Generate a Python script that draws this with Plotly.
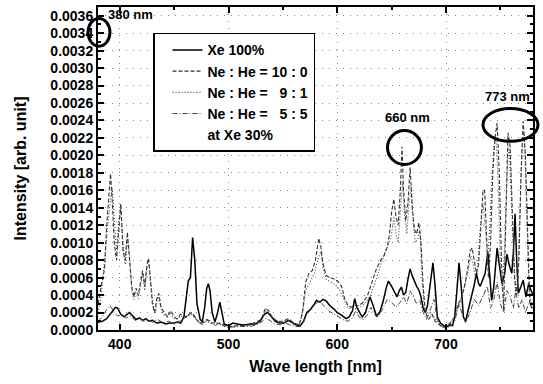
import plotly.graph_objects as go

# ---------------- data (intensity values in units of 1e-4 arb. unit) ----------------
xe_wl = [380, 384, 388, 392, 396, 398, 401, 404, 406, 409, 412, 415, 418, 421, 424, 427, 430, 434, 438, 442,
         446, 450, 453, 456, 459, 461, 463, 465, 467, 469, 471, 474, 476, 478, 480, 481.5, 483, 485, 487.5, 490,
         492, 494, 496, 500, 504, 508, 512, 516, 520, 525, 529, 533, 536, 539, 543, 547, 551, 555, 558, 562,
         566, 569, 572, 575, 578, 581, 584, 587, 590, 593, 597, 600, 604, 608, 611, 614, 616, 618, 621, 623,
         626, 628, 630, 633, 636, 639, 642, 645, 647, 650, 653, 655, 657, 659, 661, 663, 665, 667, 669, 671,
         673, 675, 677, 679, 681, 683, 685, 688, 690, 692, 695, 698, 701, 704, 706, 708, 710, 712, 714, 716,
         718, 720, 722, 724, 726, 728, 730, 731.5, 734, 736, 738.5, 740, 742, 744, 747, 749, 751.5, 754, 756, 758,
         760.5, 762, 763.5, 765, 766.5, 769, 771, 773.5, 776, 778, 780]
xe_int = [0.9, 1.0, 1.3, 2.0, 2.6, 2.5, 1.8, 1.5, 1.7, 2.0, 1.6, 1.2, 1.4, 1.1, 1.3, 1.0, 1.1, 0.8, 0.9, 0.7,
          0.8, 0.8, 0.9, 0.8, 1.5, 3.5, 5.6, 6.0, 10.6, 8.0, 3.0, 1.2, 1.0, 2.5, 4.8, 5.3, 4.5, 2.0, 0.9, 2.0,
          3.2, 2.0, 0.7, 0.5, 0.8, 0.7, 0.6, 0.6, 0.7, 0.7, 1.0, 1.8, 2.0, 1.6, 1.0, 0.8, 0.8, 1.1, 0.9, 0.6,
          0.5, 1.0, 2.0, 2.3, 2.8, 3.4, 3.2, 3.5, 3.3, 2.8, 2.4, 2.0, 1.7, 1.3, 1.5, 2.2, 3.6, 2.6, 1.9, 1.5,
          2.0, 3.0, 3.8, 2.8, 1.6, 2.0, 3.2, 4.8, 5.6, 5.0, 4.2, 3.8, 4.5, 4.9, 4.0, 4.3, 5.8, 7.0, 6.2, 5.5,
          5.0, 4.6, 3.8, 2.5, 2.0, 2.8, 5.0, 7.7, 5.0, 1.5, 0.8, 0.5, 0.4, 0.6, 0.5, 1.5, 4.5, 7.7, 5.0, 1.5,
          1.0, 2.0, 3.0, 4.2, 5.2, 6.5, 5.3, 5.0, 5.8, 6.5, 8.9, 6.0, 3.4, 5.0, 9.4, 7.5, 5.3, 6.5, 8.7, 7.5,
          6.5, 9.0, 13.3, 8.0, 4.2, 5.0, 5.7, 3.8, 5.3, 4.6, 4.0]

ne100_wl = [380, 383, 386, 388, 390, 391.5, 393, 395, 397, 399, 401, 403, 405, 407, 409, 411, 413, 415, 417, 419,
            421, 423, 425, 426.5, 428, 430, 432, 434, 436, 438, 441, 444, 447, 450, 453, 456, 460, 463, 466, 469,
            472, 476, 480, 484, 490, 495, 500, 510, 520, 530, 534, 537, 540, 545, 550, 555, 560, 565, 568, 571,
            574, 577, 580, 583, 585, 587, 590, 594, 598, 601, 604, 607, 610, 613, 616, 620, 624, 628, 632, 636,
            640, 643, 646, 648, 650, 652, 654, 656, 658, 659.5, 661, 663, 665, 667, 669, 671, 673, 675, 677, 679,
            681, 684, 687, 690, 694, 697, 700, 704, 708, 711, 714, 717, 720, 722, 724, 726, 728, 730, 732, 734,
            735.5, 737, 739, 741, 743, 745, 747, 749, 751, 753, 755, 757, 759, 761, 763, 765, 767, 769, 771, 773,
            775, 777, 779, 780]
ne100_int = [3.0, 5.0, 7.0, 12.0, 16.0, 17.9, 15.0, 10.0, 8.0, 11.0, 14.5, 9.0, 8.0, 11.2, 8.0, 5.0, 3.8, 4.8, 4.0, 5.5,
             6.8, 5.0, 7.5, 8.2, 6.0, 3.0, 2.0, 3.5, 4.2, 2.5, 2.0, 1.5, 2.2, 1.5, 1.3, 1.8, 1.5, 1.8, 2.0, 1.5,
             1.0, 0.8, 1.2, 0.8, 0.8, 0.6, 0.4, 0.5, 0.6, 1.2, 2.5, 2.2, 1.5, 1.0, 1.0, 1.3, 0.8, 0.6, 2.0, 5.5,
             6.5, 6.8, 8.0, 10.5, 9.5, 7.5, 6.2, 6.0, 5.8, 5.5, 5.0, 3.5, 2.8, 2.6, 2.8, 2.8, 3.2, 4.0, 5.5, 7.0,
             8.0, 8.5, 9.5, 11.0, 13.5, 15.0, 13.0, 12.0, 16.0, 21.0, 16.0, 12.5, 14.5, 18.6, 14.0, 11.5, 11.0, 12.3, 10.0, 5.0,
             2.0, 1.2, 1.8, 1.0, 0.6, 0.3, 0.5, 0.8, 1.5, 3.0, 3.5, 5.0, 7.0, 9.0, 9.4, 8.0, 6.5, 7.5, 12.0, 16.0,
             16.0, 12.0, 6.0, 10.0, 18.0, 22.0, 23.7, 18.0, 8.0, 2.3, 12.0, 22.6, 21.0, 12.0, 6.0, 4.0, 8.0, 18.0, 23.9, 20.0,
             10.0, 3.0, 2.5, 3.0]

ne90_wl = [380, 383, 386, 389, 391, 393, 395, 397, 399, 401, 403, 405, 407, 409, 411, 413, 415, 417, 419, 421,
           423, 425, 427, 429, 431, 433, 435, 437, 440, 443, 446, 449, 452, 456, 460, 463, 466, 470, 475, 480,
           485, 490, 495, 500, 510, 520, 530, 534, 538, 542, 548, 555, 560, 565, 568, 571, 575, 579, 582, 585,
           587, 590, 594, 598, 602, 606, 610, 615, 620, 625, 630, 635, 640, 644, 647, 650, 652, 654, 656, 658,
           660, 662, 664, 666, 668, 670, 672, 674, 676, 678, 680, 683, 686, 689, 692, 696, 700, 704, 708, 712,
           716, 720, 723, 725, 727, 729, 731, 734, 736, 738, 740, 742, 744, 746, 748, 750, 752, 754, 756, 758,
           760, 762, 764, 766, 768, 770, 772, 774, 776, 778, 780]
ne90_int = [2.0, 4.0, 8.0, 12.0, 14.5, 16.3, 12.0, 9.0, 12.5, 14.0, 10.0, 7.5, 10.5, 8.5, 4.5, 3.5, 4.2, 3.6, 5.0, 6.5,
            4.5, 7.0, 7.6, 5.0, 2.5, 2.0, 4.0, 3.0, 1.8, 1.6, 2.0, 1.4, 1.2, 1.6, 1.3, 1.6, 1.8, 1.2, 0.8, 1.0,
            0.7, 0.7, 0.5, 0.4, 0.5, 0.5, 1.0, 2.2, 1.8, 1.2, 0.9, 1.1, 0.7, 0.6, 1.8, 4.5, 5.5, 6.5, 8.0, 9.0,
            7.0, 5.8, 5.5, 5.2, 4.6, 3.5, 2.5, 2.4, 2.5, 3.0, 3.8, 5.5, 7.5, 9.0, 9.8, 11.0, 13.0, 11.0, 10.0, 13.0,
            17.0, 13.0, 11.0, 14.5, 16.5, 12.0, 10.0, 10.5, 11.5, 6.0, 2.5, 1.5, 2.0, 1.5, 1.0, 0.5, 0.4, 0.8, 1.5, 3.0,
            4.5, 6.5, 8.5, 7.5, 6.0, 7.0, 11.0, 14.5, 12.0, 8.0, 11.0, 17.0, 21.0, 22.0, 17.0, 7.0, 4.5, 10.0, 18.0, 21.0,
            15.0, 8.0, 4.0, 6.0, 14.0, 21.0, 22.5, 15.0, 6.0, 3.0, 3.5]

ne50_wl = [380, 384, 388, 391, 394, 398, 402, 406, 410, 414, 418, 422, 426, 430, 435, 440, 445, 450, 455, 460,
           463, 466, 469, 472, 476, 480, 484, 488, 492, 496, 500, 510, 520, 526, 530, 534, 538, 542, 548, 552,
           556, 562, 566, 569, 572, 576, 580, 584, 588, 592, 596, 600, 605, 610, 614, 617, 620, 624, 628, 631,
           634, 638, 642, 646, 650, 654, 658, 661, 664, 667, 670, 673, 676, 679, 682, 686, 689, 692, 696, 700,
           704, 708, 712, 715, 718, 722, 726, 730, 734, 738, 741, 744, 747, 750, 753, 756, 759, 762, 764, 767,
           770, 773, 776, 780]
ne50_int = [1.0, 1.5, 2.4, 2.8, 2.2, 1.6, 1.8, 1.4, 1.6, 1.1, 1.3, 1.0, 1.2, 0.9, 1.2, 0.8, 1.0, 0.7, 1.0, 1.4,
            1.7, 1.9, 1.6, 0.9, 0.6, 1.2, 1.0, 0.5, 0.9, 0.4, 0.3, 0.4, 0.4, 0.6, 0.9, 1.3, 1.1, 0.7, 0.6, 0.8,
            0.6, 0.4, 0.4, 0.9, 1.8, 2.4, 3.0, 3.3, 2.8, 2.2, 1.9, 1.6, 1.2, 1.0, 1.4, 2.2, 1.5, 1.2, 1.8, 2.6,
            1.8, 1.5, 2.5, 3.5, 3.2, 2.6, 3.2, 3.8, 3.0, 4.5, 3.8, 3.0, 3.4, 2.0, 1.2, 2.5, 3.5, 1.2, 0.4, 0.2,
            0.4, 1.0, 3.0, 1.8, 0.8, 2.0, 3.5, 2.8, 4.0, 5.0, 2.5, 3.5, 5.5, 3.0, 2.0, 4.5, 3.8, 2.5, 4.5, 2.5,
            3.5, 2.0, 3.0, 2.5]

series_names = ["Xe 100%", "Ne : He = 10 : 0", "Ne : He = \u20079 : 1", "Ne : He = \u20075 : 5"]
note_label = "at Xe 30%"

x_ticks = [400, 500, 600, 700]
y_ticks = [i * 0.0002 for i in range(19)]
x_range = [380, 780]
y_range = [0, 0.0037]
UNIT = 1e-4

# ---------------- figure ----------------
def scale(v):
    return [a * UNIT for a in v]

fig = go.Figure()
styles = [
    dict(color="black", width=1.5, dash="solid"),
    dict(color="#333333", width=1.1, dash="4px,2px"),
    dict(color="#444444", width=1.1, dash="1px,2px"),
    dict(color="#444444", width=1.0, dash="5px,2px,1px,2px"),
]
for (wl, inten), name, st in zip(
    [(xe_wl, xe_int), (ne100_wl, ne100_int), (ne90_wl, ne90_int), (ne50_wl, ne50_int)],
    series_names, styles):
    fig.add_trace(go.Scatter(x=wl, y=scale(inten), mode="lines", name=name, line=st))

# legend-only note line
fig.add_trace(go.Scatter(x=[None], y=[None], mode="lines", name=note_label,
                         line=dict(color="rgba(0,0,0,0)", width=0)))

FONT = "Liberation Sans, Arial, sans-serif"
axis_common = dict(
    showline=True, linecolor="black", linewidth=2, mirror="allticks",
    ticks="inside", ticklen=6, tickwidth=1.5, tickcolor="black",
    showgrid=True, gridcolor="#888888", gridwidth=1, griddash="1px,6px",
    zeroline=False,
    tickfont=dict(family=FONT, size=14, color="black", weight="bold"),
)
fig.update_xaxes(
    range=x_range, tickvals=x_ticks,
    minor=dict(ticks="inside", ticklen=3, tickcolor="black", dtick=50, tick0=400, showgrid=False),
    title=dict(text="Wave length [nm]", font=dict(family=FONT, size=16, color="black", weight="bold"), standoff=10),
    **axis_common)
fig.update_yaxes(
    range=y_range, tickvals=y_ticks, tickformat=".4f",
    minor=dict(ticks="inside", ticklen=3, tickcolor="black", dtick=0.0001, tick0=0, showgrid=False),
    title=dict(text="Intensity [arb. unit]", font=dict(family=FONT, size=16, color="black", weight="bold"), standoff=20),
    **axis_common)

def to_paper(x, y):
    return (x - x_range[0]) / (x_range[1] - x_range[0]), (y - y_range[0]) / (y_range[1] - y_range[0])

# circles (center wavelength, center intensity, half width nm, half height)
circles = [(380.9, 0.00341, 10.1, 0.000159), (661.8, 0.00209, 15.6, 0.000194), (759.3, 0.00235, 25.3, 0.000188)]
for cx, cy, hx, hy in circles:
    x0, y0 = to_paper(cx - hx, cy - hy)
    x1, y1 = to_paper(cx + hx, cy + hy)
    fig.add_shape(type="circle", xref="paper", yref="paper", x0=x0, y0=y0, x1=x1, y1=y1,
                  line=dict(color="black", width=3))

labels = [("380 nm", 409.5, 0.00361), ("660 nm", 665, 0.00243), ("773 nm", 757, 0.00268)]
for t, ax_, ay_ in labels:
    fig.add_annotation(x=ax_, y=ay_, xref="x", yref="y", text=t, showarrow=False,
                       font=dict(family=FONT, size=13, color="black", weight="bold"))

fig.update_layout(
    width=543, height=384,
    margin=dict(l=98, r=10, t=5, b=54),
    paper_bgcolor="white", plot_bgcolor="white",
    font=dict(family=FONT, color="black", weight="bold"),
    showlegend=True,
    legend=dict(x=(153 - 98) / 435, y=(330 - 31) / 325, xanchor="left", yanchor="top",
                bgcolor="white", bordercolor="black", borderwidth=1.5,
                font=dict(family=FONT, size=14, color="black", weight="bold"),
                tracegroupgap=0, itemwidth=30, indentation=13),
)

fig.write_html("out.html", config={"displayModeBar": False},
               post_script="document.body.style.margin='0';document.body.style.overflow='hidden';")
